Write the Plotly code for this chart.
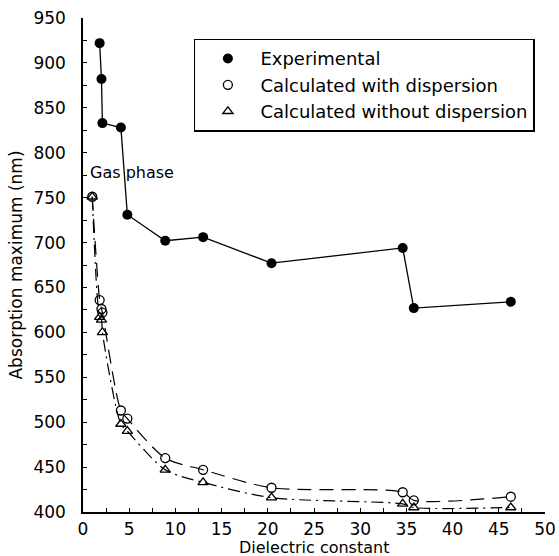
import plotly.graph_objects as go

# Experimental absorption maxima
exp_eps = [1.8, 2.0, 2.1, 4.1, 4.8, 8.9, 13.0, 20.4, 34.6, 35.8, 46.3]
exp_nm = [922, 882, 833, 828, 731, 702, 706, 677, 694, 627, 634]

# Calculated (gas phase at eps = 1)
calc_eps = [1.0, 1.8, 2.0, 2.1, 4.1, 4.8, 8.9, 13.0, 20.4, 34.6, 35.8, 46.3]
calc_disp_nm = [751, 636, 626, 622, 513, 504, 460, 447, 427, 422, 413, 417]
calc_nodisp_nm = [751, 617, 614, 600, 498, 490, 447, 433, 416, 409, 405, 405]

x_ticks = [0, 5, 10, 15, 20, 25, 30, 35, 40, 45, 50]
y_ticks = [400, 450, 500, 550, 600, 650, 700, 750, 800, 850, 900, 950]

FONT = "DejaVu Sans"
fig = go.Figure()

# fitted curves (not in legend)
fig.add_trace(go.Scatter(x=calc_eps, y=calc_disp_nm, mode="lines", line_shape="spline",
                         line=dict(color="black", width=1.2, dash="14px,8px", smoothing=0.8),
                         showlegend=False, hoverinfo="skip"))
fig.add_trace(go.Scatter(x=calc_eps, y=calc_nodisp_nm, mode="lines", line_shape="spline",
                         line=dict(color="black", width=1.2, dash="12px,5px,2px,5px", smoothing=0.8),
                         showlegend=False, hoverinfo="skip"))
# experimental line
fig.add_trace(go.Scatter(x=exp_eps, y=exp_nm, mode="lines",
                         line=dict(color="black", width=1.3),
                         showlegend=False, hoverinfo="skip"))

fig.add_trace(go.Scatter(x=exp_eps, y=exp_nm, mode="markers", name="Experimental",
                         marker=dict(symbol="circle", size=10, color="black")))
fig.add_trace(go.Scatter(x=calc_eps, y=calc_disp_nm, mode="markers",
                         name="Calculated with dispersion",
                         marker=dict(symbol="circle-open", size=9, color="black",
                                     line=dict(width=1.3))))
fig.add_trace(go.Scatter(x=calc_eps, y=calc_nodisp_nm, mode="markers",
                         name="Calculated without dispersion",
                         marker=dict(symbol="triangle-up-open", size=9, color="black",
                                     line=dict(width=1.3))))

fig.add_annotation(x=1.0, y=751, text="Gas phase", showarrow=False,
                   xanchor="left", yanchor="middle", xshift=-4, yshift=24,
                   font=dict(family=FONT, size=16, color="black"))

fig.add_annotation(xref="paper", yref="paper", x=0.5, y=0, text="Dielectric constant",
                   showarrow=False, xanchor="center", yanchor="top", yshift=-24,
                   font=dict(family=FONT, size=16, color="black"))

axis_common = dict(showgrid=False, zeroline=False, showline=True, linecolor="black",
                   linewidth=1.5, ticks="inside", ticklen=4, tickwidth=1.2,
                   tickcolor="black", mirror=False, automargin=False,
                   tickfont=dict(family=FONT, size=17, color="black"))

fig.update_layout(
    width=559, height=556,
    margin=dict(l=83, r=14, t=18, b=44),
    paper_bgcolor="white", plot_bgcolor="white",
    xaxis=dict(range=[0, 50], tickvals=x_ticks, ticktext=[str(v) for v in x_ticks],
               minor=dict(dtick=2.5, ticks="inside", ticklen=4, tickcolor="black", tickwidth=1),
               ticklabelstandoff=1,
               **axis_common),
    yaxis=dict(range=[400, 950], tickvals=y_ticks, ticktext=[str(v) for v in y_ticks],
               minor=dict(dtick=25, ticks="inside", ticklen=4, tickcolor="black", tickwidth=1),
               ticklabelstandoff=12,
               title=dict(text="Absorption maximum (nm)", standoff=6,
                          font=dict(family=FONT, size=17, color="black")),
               **axis_common),
    legend=dict(x=0.24, y=0.958, xanchor="left", yanchor="top",
                bgcolor="white", bordercolor="black", borderwidth=1.5,
                font=dict(family=FONT, size=18, color="black"),
                itemwidth=55, tracegroupgap=0),
    showlegend=True,
)

fig.write_html("out.html")
